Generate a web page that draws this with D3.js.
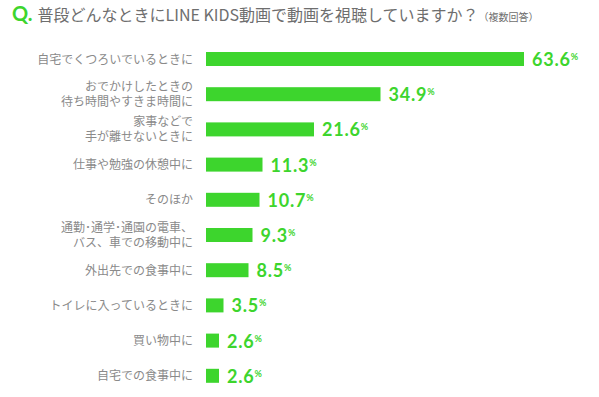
<!DOCTYPE html>
<html>
  <head>
    <meta charset="utf-8" />
    <script src="https://d3js.org/d3.v7.min.js"></script>
    <style>
      body {
        margin: 0;
        background: #fff;
      }
      #canvas {
        display: block;
      }
    </style>
  </head>
  <body>
    <svg id="canvas" width="599" height="397"></svg>
    <script>
      // labels (line breaks with \n), values in %
      let categories = [
        "自宅でくつろいでいるときに",
        "おでかけしたときの\n待ち時間やすきま時間に",
        "家事などで\n手が離せないときに",
        "仕事や勉強の休憩中に",
        "そのほか",
        "通勤･通学･通園の電車、\nバス、車での移動中に",
        "外出先での食事中に",
        "トイレに入っているときに",
        "買い物中に",
        "自宅での食事中に",
      ];
      let values = [63.6, 34.9, 21.6, 11.3, 10.7, 9.3, 8.5, 3.5, 2.6, 2.6];

      let green = "#3dd52d";
      let svg = d3.select("#canvas");
      let jp = "'Noto Sans CJK JP', sans-serif";

      // title
      let title = svg
        .append("text")
        .attr("x", 12)
        .attr("y", 21)
        .style("font-family", jp);
      title
        .append("tspan")
        .text("Q.")
        .attr("fill", green)
        .style("font-family", "Lato, sans-serif")
        .style("font-weight", "bold")
        .style("font-size", "20px");
      title
        .append("tspan")
        .attr("dx", 5)
        .text("普段どんなときにLINE KIDS動画で動画を視聴していますか？")
        .attr("fill", "#6e6e6e")
        .style("font-size", "16px");
      title
        .append("tspan")
        .text("（複数回答）")
        .attr("fill", "#6e6e6e")
        .style("font-size", "10px");

      let x = d3.scaleLinear().domain([0, 100]).range([206, 706]);
      let y = d3
        .scaleBand()
        .domain(categories)
        .range([41.4, 393.4]);
      let barH = 14;

      let rows = svg
        .append("g")
        .selectAll("g")
        .data(categories)
        .enter()
        .append("g");

      rows
        .append("rect")
        .attr("x", x(0))
        .attr("y", (d) => y(d) + y.bandwidth() / 2 - barH / 2)
        .attr("width", (d, i) => x(values[i]) - x(0))
        .attr("height", barH)
        .attr("fill", green);

      // category labels
      rows.each(function (d) {
        let lines = d.split("\n");
        let cy = y(d) + y.bandwidth() / 2;
        let t = d3
          .select(this)
          .append("text")
          .attr("text-anchor", "end")
          .attr("fill", "#8a8a8a")
          .style("font-family", jp)
          .style("font-size", "12px");
        lines.forEach((l, j) => {
          t.append("tspan")
            .attr("x", 193)
            .attr("y", cy + 4.5 + (j - (lines.length - 1) / 2) * 15)
            .text(l);
        });
      });

      // value labels
      let vals = rows
        .append("text")
        .attr("x", (d, i) => x(values[i]) + 8)
        .attr("y", (d) => y(d) + y.bandwidth() / 2 + 7)
        .attr("fill", green)
        .style("font-family", "Lato, sans-serif")
        .style("font-weight", "bold");
      vals
        .append("tspan")
        .text((d, i) => values[i].toFixed(1))
        .style("font-size", "18px")
        .style("letter-spacing", "0.8px");
      vals
        .append("tspan")
        .text("%")
        .attr("dy", -6)
        .style("font-size", "9px");
    </script>
  </body>
</html>
